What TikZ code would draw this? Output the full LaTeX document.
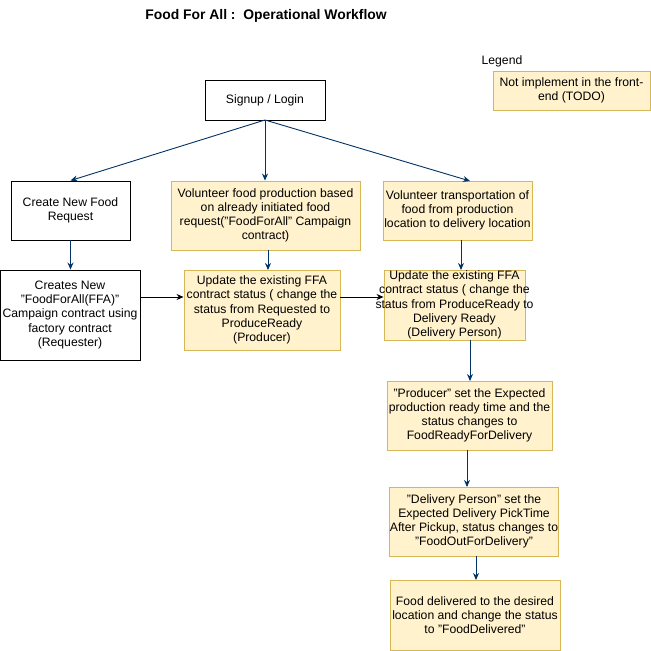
\documentclass[tikz,border=0pt]{standalone}
\usepackage{fontspec}
\setmainfont{Liberation Sans}
\usetikzlibrary{arrows.meta}
\definecolor{ybg}{HTML}{FFF2CC}
\definecolor{ybd}{HTML}{D6B656}
\definecolor{darr}{HTML}{003366}
\begin{document}
\begin{tikzpicture}[x=1pt,y=-1pt,
  box/.style={draw=black,fill=white,line width=0.9pt,align=center,inner sep=0pt,font=\fontsize{12.2}{14.2}\selectfont},
  ybox/.style={draw=ybd,fill=ybg,line width=0.9pt,align=center,inner sep=0pt,font=\fontsize{12.2}{14.2}\selectfont},
  txt/.style={align=center,inner sep=0pt,font=\fontsize{12.2}{14.2}\selectfont},
  barr/.style={draw=darr,line width=0.9pt,-{Stealth[length=7pt,width=6pt]}},
  karr/.style={draw=black,line width=0.9pt,-{Stealth[length=7pt,width=6pt]}}]
\useasboundingbox (0,0) rectangle (651,651);
\fill[white] (0,0) rectangle (651,651);
\node[font=\bfseries\fontsize{13.9}{16}\selectfont] (title) at (266,16) {Food For All :\ \ Operational Workflow};
\node[font=\fontsize{12.2}{14}\selectfont] (leg) at (502,61) {Legend};
\node[ybox,minimum width=157pt,minimum height=39pt] (legbox) at (571.5,90.5) {Not implement in the front-\\end (TODO)};
\node[box,minimum width=120pt,minimum height=40pt] (sign) at (265,100) {Signup / Login};
\node[box,minimum width=119pt,minimum height=59pt] (cnf) at (70.5,210.5) {Create New Food\\Request};
\node[box,minimum width=140pt,minimum height=90pt] (cn) at (70,315) {Creates New\\"FoodForAll(FFA)"\\Campaign contract using\\factory contract\\(Requester)};
\node[ybox,minimum width=189pt,minimum height=69pt] (vfp) at (265.5,215.5) {Volunteer food production based\\on already initiated food\\request("FoodForAll" Campaign\\contract)};
\node[ybox,minimum width=156pt,minimum height=80pt] (up1) at (262,310) {Update the existing FFA\\contract status ( change the\\status from Requested to\\ProduceReady\\(Producer)};
\node[ybox,minimum width=149pt,minimum height=59pt] (vtr) at (457.5,210.5) {Volunteer transportation of\\food from production\\location to delivery location};
\node[ybox,minimum width=141pt,minimum height=70pt] (up2) at (454.5,305) {};
\node[txt] (up2t) at (up2.center) {Update the existing FFA\\contract status ( change the\\status from ProduceReady to\\Delivery Ready\\(Delivery Person)};
\node[ybox,minimum width=165pt,minimum height=69pt] (prod) at (469.5,415.5) {"Producer" set the Expected\\production ready time and the\\status changes to\\FoodReadyForDelivery};
\node[ybox,minimum width=168pt,minimum height=69pt] (dp) at (474,521.5) {"Delivery Person" set the\\Expected Delivery PickTime\\After Pickup, status changes to\\"FoodOutForDelivery"};
\node[ybox,minimum width=170pt,minimum height=70pt] (fd) at (475,615) {Food delivered to the desired\\location and change the status\\to "FoodDelivered"};
\coordinate (s0) at (265,120);
\draw[barr] (s0) -- (cnf.north);
\draw[barr] (s0) -- (vfp.north -| s0);
\draw[barr] (s0) -- (470,181);
\draw[barr] (cnf.south) -- (cnf.south |- cn.north);
\draw[barr] (268,250) -- (268,270);
\draw[barr] (461,240) -- (461,270);
\draw[barr] (470,340) -- (470,381);
\draw[barr] (467,450) -- (467,487);
\draw[barr] (476,556) -- (476,580);
\draw[karr] (cn.east |- 0,297) -- (up1.west |- 0,297);
\draw[karr] (up1.east |- 0,297) -- (up2.west |- 0,297);
\end{tikzpicture}
\end{document}
